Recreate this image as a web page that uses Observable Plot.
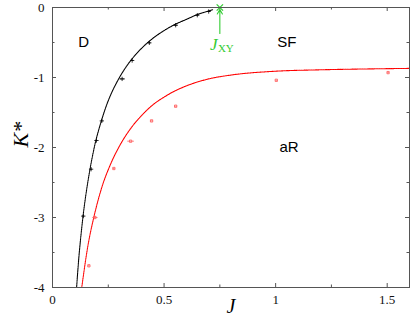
<!DOCTYPE html>
<html><head><meta charset="utf-8">
<script src="https://cdn.jsdelivr.net/npm/d3@7"></script>
<script src="https://cdn.jsdelivr.net/npm/@observablehq/plot@0.6"></script>
<style>body{margin:0;background:#fff}</style>
</head><body><div id="chart"></div>
<script>
// Black boundary (D) curve
const blackCurveJ = [0.108,0.12,0.14,0.16,0.18,0.2,0.25,0.3,0.35,0.4,0.45,0.5,0.55,0.6,0.65,0.7,0.72];
const blackCurveK = [-4.0,-3.5,-2.9,-2.46,-2.11,-1.83,-1.33,-1.0,-0.76,-0.58,-0.44,-0.33,-0.24,-0.17,-0.1,-0.05,-0.03];
// Red boundary (aR) curve
const redCurveJ = [0.131,0.16,0.185,0.22,0.26,0.3,0.35,0.4,0.45,0.5,0.55,0.6,0.7,0.8,1.0,1.2,1.4,1.6];
const redCurveK = [-4.0,-3.38,-3.0,-2.58,-2.24,-1.98,-1.73,-1.54,-1.39,-1.28,-1.19,-1.12,-1.02,-0.965,-0.91,-0.89,-0.878,-0.87];
// Black data points with horizontal error
const blackJ = [0.138,0.173,0.197,0.221,0.312,0.357,0.434,0.552,0.649,0.70];
const blackK = [-2.98,-2.31,-1.9,-1.62,-1.02,-0.757,-0.505,-0.253,-0.11,-0.057];
const blackErr = [0.004,0.004,0.004,0.004,0.012,0.006,0.006,0.008,0.006,0.006];
// Red data points with horizontal error
const redJ = [0.163,0.19,0.275,0.35,0.444,0.552,1.003,1.504];
const redK = [-3.69,-3.0,-2.30,-1.91,-1.62,-1.41,-1.04,-0.93];
const redErr = [0.004,0.012,0.004,0.015,0.006,0.006,0.004,0.004];
// Ticks
const xMajor = [0,0.5,1,1.5];
const xLabels = ["0","0.5","1","1.5"];
const xMinor = [0.25,0.75,1.25];
const yMajor = [0,-1,-2,-3,-4];
const yLabels = ["0","-1","-2","-3","-4"];
const yMinor = [-0.5,-1.5,-2.5,-3.5];
// Region labels
const regionText = ["D","SF","aR"];
const regionJ = [0.14,1.05,1.06];
const regionK = [-0.5,-0.5,-2.0];
// J_XY marker
const jxy = 0.75;
const jxyK = 0;
const jxyArrowFrom = -0.37;

const W = 415, H = 332, ml = 52, mr = 6, mt = 7, mb = 45;
const iw = W - ml - mr, ih = H - mt - mb;
const zip = (a,b) => a.map((v,i)=>({x:v,y:b[i]}));
const bc = zip(blackCurveJ, blackCurveK), rc = zip(redCurveJ, redCurveK);
const bp = blackJ.map((v,i)=>({x:v,y:blackK[i],e:blackErr[i]}));
const rp = redJ.map((v,i)=>({x:v,y:redK[i],e:redErr[i]}));
const regions = regionText.map((t,i)=>({t,x:regionJ[i],y:regionK[i]}));
const green = "#33cc33";
const axisCol = "#555";
const serif = "'Liberation Serif', 'DejaVu Serif', serif";

const chart = Plot.plot({
  width: W, height: H,
  marginLeft: ml, marginRight: mr, marginTop: mt, marginBottom: mb,
  style: {fontFamily: serif, fontSize: "13px", background: "#fff"},
  x: {domain: [0, 1.6]},
  y: {domain: [-4, 0]},
  marks: [
    // tick marks (inward, mirrored)
    Plot.ruleY(yMajor, {y: d=>d, insetRight: iw-4, stroke: axisCol}),
    Plot.ruleY(yMajor, {y: d=>d, insetLeft: iw-4, stroke: axisCol}),
    Plot.ruleY(yMinor, {y: d=>d, insetRight: iw-2.5, stroke: axisCol}),
    Plot.ruleY(yMinor, {y: d=>d, insetLeft: iw-2.5, stroke: axisCol}),
    Plot.ruleX(xMajor, {x: d=>d, insetTop: ih-4, stroke: axisCol}),
    Plot.ruleX(xMajor, {x: d=>d, insetBottom: ih-4, stroke: axisCol}),
    Plot.ruleX(xMinor, {x: d=>d, insetTop: ih-2.5, stroke: axisCol}),
    Plot.ruleX(xMinor, {x: d=>d, insetBottom: ih-2.5, stroke: axisCol}),
    Plot.axisX({ticks: xMajor, tickSize: 0, tickPadding: 7, tickFormat: d => xLabels[xMajor.indexOf(d)], label: null, fontSize: 13, fill: "#111"}),
    Plot.axisY({ticks: yMajor, tickSize: 0, tickPadding: 8, tickFormat: d => yLabels[yMajor.indexOf(d)], label: null, fontSize: 13, fill: "#111"}),
    // curves
    Plot.line(bc, {x:"x", y:"y", curve:"catmull-rom", stroke:"#000", strokeWidth:1.1, strokeDasharray:"1,0.7", clip:true}),
    Plot.line(rc, {x:"x", y:"y", curve:"monotone-x", stroke:"#ff0000", strokeWidth:1.1, strokeDasharray:"1,0.7", clip:true}),
    // error bars
    Plot.link(bp, {x1: d=>d.x-d.e, x2: d=>d.x+d.e, y1:"y", y2:"y", stroke:"#000", strokeWidth:0.7}),
    Plot.dot(bp, {x:"x", y:"y", symbol:"plus", r:1.5, stroke:"#000", strokeWidth:0.8}),
    Plot.link(rp, {x1: d=>d.x-d.e, x2: d=>d.x+d.e, y1:"y", y2:"y", stroke:"#ff5555", strokeWidth:0.7}),
    Plot.dot(rp, {x:"x", y:"y", symbol:"square", r:1.3, stroke:"#ff5555", strokeWidth:0.8, fill:"none"}),
    // J_XY
    Plot.arrow([{x:jxy}], {x1:"x", x2:"x", y1: ()=>jxyArrowFrom, y2: ()=>jxyK-0.03, stroke: green, strokeWidth:1.1, headLength:7}),
    Plot.dot([{x:jxy, y:jxyK}], {x:"x", y:"y", symbol:"times", r:3, stroke: green, strokeWidth:1.2}),
    Plot.text([{x:jxy}], {x:"x", y: ()=>jxyArrowFrom, text: ()=>"J", dy: 11, dx: -6, fill: green, fontSize: 17, fontStyle:"italic", fontFamily: serif}),
    Plot.text([{x:jxy}], {x:"x", y: ()=>jxyArrowFrom, text: ()=>"XY", dy: 15, dx: 6, fill: green, fontSize: 11, fontFamily: serif}),
    // region labels
    Plot.text(regions, {x:"x", y:"y", text:"t", fontSize: 15, fill:"#000", fontFamily:"'Liberation Sans', sans-serif"}),
    // axis titles
    Plot.text(["K*"], {frameAnchor:"left", dx:-32, rotate:-90, text: d=>d, fontSize: 22, fontStyle:"italic", fontFamily: serif}),
    Plot.text(["J"], {frameAnchor:"bottom", dy:25, text: d=>d, fontSize: 20, fontStyle:"italic", fontFamily: serif}),
    Plot.frame({stroke: axisCol})
  ]
});
// force serif font on tick labels
d3.select(chart).selectAll("g[aria-label='x-axis tick label'], g[aria-label='y-axis tick label']")
  .attr("font-family", serif).style("font-family", serif);
document.getElementById("chart").appendChild(chart);
</script>
</body></html>
